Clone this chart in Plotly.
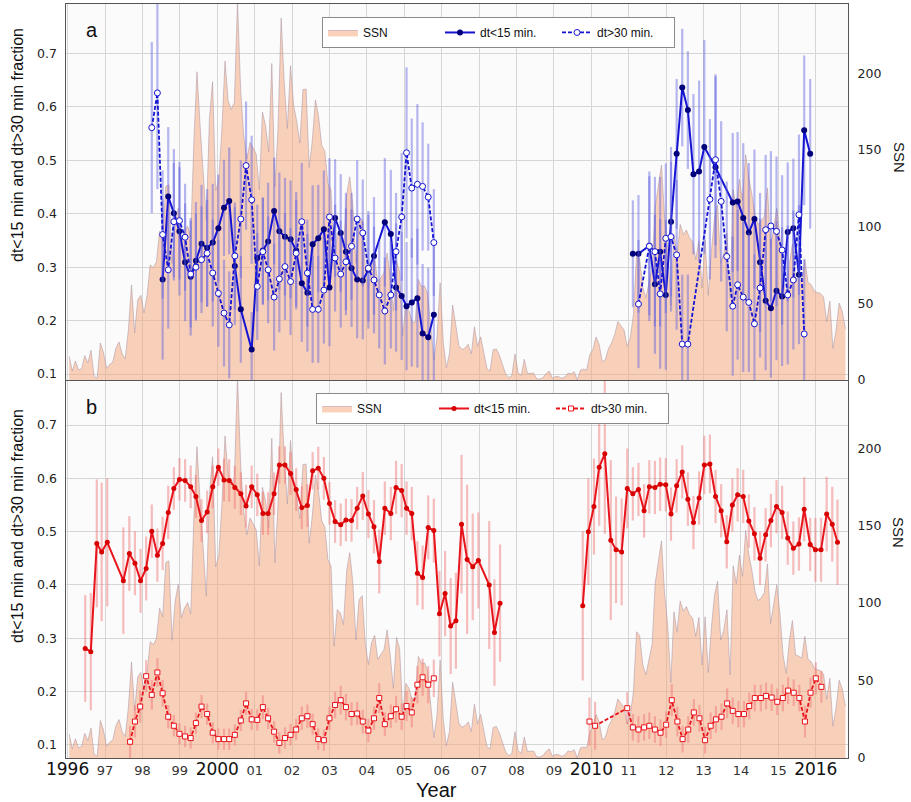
import plotly.graph_objects as go

# monthly sunspot number, Jan 1996 .. Oct 2016
ssn = [
    15.5, 5.9, 12.4, 6.5, 7.4, 15.9, 11.1, 19.4, 2.2, 1.2, 24.2, 18.0,            # 1996
    7.6, 10.2, 11.7, 20.8, 24.8, 17.0, 13.9, 32.7, 62.0, 30.6, 52.3, 55.2,        # 1997
    43.7, 55.2, 75.1, 73.2, 77.1, 96.9, 91.2, 126.3, 127.3, 76.0, 101.4, 112.2,   # 1998
    90.5, 96.8, 100.4, 93.0, 155.3, 201.0, 165.7, 136.8, 104.4, 170.4, 194.5, 123.5,
    130.6, 163.7, 208.0, 182.0, 176.3, 181.1, 246.6, 189.2, 159.1, 144.1, 154.9, 151.4,
    147.2, 124.1, 174.8, 165.9, 148.8, 206.4, 126.0, 163.9, 236.0, 193.3, 164.0, 205.0,
    179.1, 168.6, 154.5, 189.5, 189.7, 138.6, 156.4, 182.7, 172.1, 153.1, 149.2, 128.1,
    124.0, 72.1, 95.9, 93.6, 86.1, 120.7, 132.6, 113.4, 76.1, 102.3, 104.8, 73.3,
    60.3, 74.5, 79.2, 63.7, 67.2, 70.0, 82.8, 66.3, 44.9, 77.8, 70.5, 29.0,       # 2004
    48.2, 45.0, 37.7, 37.6, 65.6, 61.0, 61.4, 56.1, 34.0, 13.1, 27.7, 63.4,
    24.8, 7.9, 17.2, 48.9, 36.1, 22.5, 19.8, 20.9, 23.3, 17.0, 34.7, 22.0,
    28.2, 18.0, 7.6, 5.7, 19.7, 20.3, 16.3, 10.1, 4.0, 1.5, 2.9, 17.0,
    4.8, 3.0, 13.5, 4.2, 4.2, 4.5, 0.7, 0.7, 1.6, 4.2, 5.9, 1.2,                  # 2008
    2.3, 2.2, 1.1, 1.9, 4.5, 4.0, 5.4, 0.0, 6.5, 7.1, 6.5, 16.4,
    19.8, 28.1, 23.3, 11.9, 13.3, 20.4, 24.3, 29.6, 38.1, 35.5, 32.6, 21.9,
    27.6, 42.6, 81.5, 78.9, 60.3, 53.7, 63.7, 73.4, 113.1, 127.6, 140.2, 105.9,
    85.7, 48.7, 94.4, 81.1, 101.4, 94.8, 97.8, 92.6, 90.3, 78.4, 90.8, 60.0,      # 2012
    91.2, 55.2, 84.0, 105.0, 114.1, 76.1, 82.7, 95.7, 53.7, 124.1, 112.5, 130.9,
    117.3, 147.0, 131.8, 121.1, 107.5, 101.5, 103.5, 106.7, 125.3, 86.7, 100.2, 112.0,
    93.0, 66.7, 54.5, 75.3, 88.8, 66.5, 65.8, 64.4, 78.6, 63.6, 62.2, 58.0,
    57.0, 56.4, 54.1, 37.9, 51.5, 20.5, 32.4, 50.2, 44.6, 33.4,                   # 2016
]
ssn_t = [1996 + (i + 0.5) / 12 for i in range(len(ssn))]

# ---- panel a : dt<15 (fast) and dt>30 (slow) fractions
a_fast_t1 = [1998.54, 1998.69, 1998.84, 1998.99, 1999.14, 1999.29, 1999.43, 1999.58, 1999.73, 1999.88,
             2000.03, 2000.18, 2000.32, 2000.47, 2000.63, 2000.92,
             2001.07, 2001.22, 2001.36, 2001.52, 2001.66, 2001.81, 2001.96,
             2002.11, 2002.26, 2002.41, 2002.55, 2002.70, 2002.85,
             2003.00, 2003.15, 2003.30, 2003.44, 2003.59, 2003.74, 2003.89,
             2004.04, 2004.19, 2004.48, 2004.64, 2004.78, 2004.93,
             2005.06, 2005.20, 2005.35, 2005.49, 2005.64, 2005.79]
a_fast_v1 = [0.277, 0.432, 0.401, 0.367, 0.309, 0.282, 0.312, 0.344, 0.336, 0.346,
             0.373, 0.411, 0.424, 0.302, 0.221, 0.146,
             0.317, 0.331, 0.348, 0.405, 0.367, 0.357, 0.352,
             0.331, 0.270, 0.252, 0.343, 0.354, 0.371,
             0.262, 0.392, 0.364, 0.329, 0.298, 0.277, 0.275,
             0.295, 0.321, 0.384, 0.362, 0.262, 0.246,
             0.227, 0.234, 0.242, 0.176, 0.169, 0.211]
a_fast_e1 = [0.15, 0.13, 0.12, 0.12, 0.11, 0.11, 0.11, 0.11, 0.11, 0.11,
             0.10, 0.09, 0.10, 0.11, 0.10, 0.07,
             0.10, 0.10, 0.11, 0.10, 0.11, 0.11, 0.11,
             0.11, 0.11, 0.11, 0.11, 0.10, 0.11,
             0.11, 0.11, 0.11, 0.11, 0.11, 0.11, 0.11,
             0.11, 0.11, 0.12, 0.12, 0.12, 0.12,
             0.12, 0.12, 0.13, 0.13, 0.13, 0.13]
a_fast_t2 = [2011.11, 2011.26, 2011.55, 2011.70, 2011.84, 2011.99, 2012.13, 2012.28, 2012.43, 2012.58,
             2012.73, 2012.88, 2013.02, 2013.32, 2013.78, 2013.91, 2014.06, 2014.21, 2014.36, 2014.51,
             2014.66, 2014.80, 2014.95, 2015.10, 2015.25, 2015.40, 2015.55, 2015.69, 2015.85]
a_fast_v2 = [0.325, 0.325, 0.340, 0.268, 0.329, 0.248, 0.385, 0.512, 0.636, 0.594,
             0.474, 0.479, 0.525, 0.487, 0.421, 0.423, 0.392, 0.365, 0.390, 0.309,
             0.237, 0.223, 0.256, 0.245, 0.366, 0.373, 0.286, 0.556, 0.512]
a_fast_e2 = [0.10, 0.11, 0.13, 0.13, 0.14, 0.14, 0.14, 0.14, 0.11, 0.11,
             0.15, 0.17, 0.20, 0.17, 0.13, 0.13, 0.14, 0.13, 0.13, 0.13,
             0.13, 0.13, 0.13, 0.13, 0.13, 0.13, 0.13, 0.14, 0.14]

a_slow_t1 = [1998.25, 1998.40, 1998.54, 1998.69, 1998.84, 1998.99, 1999.14, 1999.29, 1999.43, 1999.58,
             1999.73, 1999.88, 2000.03, 2000.18, 2000.32, 2000.47, 2000.63, 2000.77, 2000.92,
             2001.07, 2001.22, 2001.36, 2001.52, 2001.66, 2001.81, 2001.96,
             2002.11, 2002.26, 2002.41, 2002.55, 2002.70, 2002.85,
             2003.00, 2003.15, 2003.30, 2003.44, 2003.59, 2003.74, 2003.89,
             2004.04, 2004.19, 2004.33, 2004.48, 2004.64, 2004.78, 2004.93,
             2005.06, 2005.20, 2005.35, 2005.49, 2005.64, 2005.79]
a_slow_v1 = [0.561, 0.626, 0.361, 0.295, 0.385, 0.387, 0.356, 0.287, 0.300, 0.314,
             0.326, 0.289, 0.251, 0.214, 0.192, 0.321, 0.390, 0.490, 0.426,
             0.264, 0.329, 0.295, 0.244, 0.278, 0.301, 0.273,
             0.326, 0.385, 0.289, 0.221, 0.221, 0.257,
             0.394, 0.317, 0.287, 0.310, 0.339, 0.390, 0.364,
             0.298, 0.276, 0.248, 0.218, 0.248, 0.329, 0.394,
             0.514, 0.448, 0.455, 0.451, 0.431, 0.346]
a_slow_e1 = [0.16, 0.18, 0.12, 0.11, 0.11, 0.11, 0.10, 0.10, 0.10, 0.10,
             0.10, 0.10, 0.10, 0.10, 0.10, 0.10, 0.11, 0.12, 0.12,
             0.10, 0.10, 0.10, 0.10, 0.10, 0.10, 0.10,
             0.10, 0.11, 0.10, 0.10, 0.10, 0.10,
             0.11, 0.10, 0.10, 0.10, 0.10, 0.11, 0.10,
             0.10, 0.10, 0.10, 0.10, 0.10, 0.11, 0.12,
             0.16, 0.13, 0.15, 0.12, 0.10, 0.10]
a_slow_t2 = [2011.26, 2011.55, 2011.70, 2011.84, 2011.99, 2012.13, 2012.28, 2012.43, 2012.58,
             2013.17, 2013.32, 2013.47, 2013.62, 2013.78, 2013.91, 2014.06, 2014.21, 2014.36,
             2014.51, 2014.66, 2014.80, 2014.95, 2015.10, 2015.25, 2015.40, 2015.55, 2015.69]
a_slow_v2 = [0.231, 0.339, 0.329, 0.250, 0.354, 0.357, 0.323, 0.156, 0.156,
             0.427, 0.501, 0.423, 0.320, 0.227, 0.267, 0.244, 0.234, 0.194,
             0.261, 0.370, 0.377, 0.367, 0.332, 0.248, 0.276, 0.398, 0.175]
a_slow_e2 = [0.12, 0.14, 0.14, 0.14, 0.14, 0.14, 0.14, 0.13, 0.13,
             0.15, 0.16, 0.15, 0.14, 0.13, 0.14, 0.14, 0.13, 0.13,
             0.13, 0.14, 0.14, 0.14, 0.14, 0.13, 0.13, 0.15, 0.14]

# ---- panel b
b_fast_t1 = [1996.47, 1996.62, 1996.78, 1996.91, 1997.06, 1997.49, 1997.65, 1997.80, 1997.95, 1998.10,
             1998.25, 1998.40, 1998.54, 1998.69, 1998.84, 1998.99, 1999.14, 1999.29, 1999.43, 1999.58,
             1999.73, 1999.88, 2000.03, 2000.18, 2000.32, 2000.47, 2000.63, 2000.77, 2000.92,
             2001.07, 2001.22, 2001.36, 2001.52, 2001.66, 2001.81, 2001.96,
             2002.11, 2002.26, 2002.41, 2002.55, 2002.70, 2002.85,
             2003.00, 2003.15, 2003.30, 2003.44, 2003.59, 2003.74, 2003.89,
             2004.04, 2004.19, 2004.33, 2004.48, 2004.64, 2004.78, 2004.93,
             2005.06, 2005.20, 2005.35, 2005.49, 2005.64, 2005.79,
             2005.94, 2006.09, 2006.24, 2006.38, 2006.53, 2006.68, 2006.83, 2006.98,
             2007.27, 2007.41, 2007.56]
b_fast_v1 = [0.281, 0.275, 0.478, 0.462, 0.480, 0.408, 0.459, 0.441, 0.408, 0.431,
             0.501, 0.456, 0.478, 0.536, 0.581, 0.598, 0.596, 0.584, 0.566, 0.521,
             0.537, 0.584, 0.621, 0.597, 0.596, 0.583, 0.571, 0.548, 0.584,
             0.569, 0.534, 0.534, 0.571, 0.625, 0.625, 0.609,
             0.579, 0.545, 0.549, 0.614, 0.619, 0.600,
             0.553, 0.519, 0.513, 0.522, 0.521, 0.544, 0.567,
             0.533, 0.509, 0.444, 0.544, 0.534, 0.583, 0.577,
             0.544, 0.534, 0.422, 0.414, 0.508, 0.502,
             0.346, 0.384, 0.323, 0.333, 0.514, 0.448, 0.434, 0.446,
             0.400, 0.311, 0.366]
b_fast_e1 = [0.10, 0.11, 0.12, 0.13, 0.12, 0.10, 0.07, 0.06, 0.06, 0.06,
             0.05, 0.05, 0.05, 0.05, 0.04, 0.04, 0.04, 0.04, 0.04, 0.04,
             0.04, 0.04, 0.035, 0.04, 0.04, 0.04, 0.04, 0.04, 0.04,
             0.04, 0.04, 0.04, 0.04, 0.035, 0.035, 0.04,
             0.04, 0.04, 0.04, 0.035, 0.04, 0.04,
             0.04, 0.04, 0.04, 0.04, 0.04, 0.04, 0.045,
             0.045, 0.05, 0.06, 0.05, 0.05, 0.05, 0.05,
             0.05, 0.05, 0.06, 0.06, 0.06, 0.06,
             0.08, 0.08, 0.09, 0.09, 0.13, 0.14, 0.10, 0.09,
             0.12, 0.10, 0.11]
b_fast_t2 = [2009.77, 2009.92, 2010.07, 2010.21, 2010.36, 2010.52, 2010.66, 2010.81, 2010.96, 2011.11,
             2011.26, 2011.41, 2011.55, 2011.70, 2011.84, 2011.99, 2012.13, 2012.28, 2012.43, 2012.58,
             2012.73, 2012.88, 2013.02, 2013.17, 2013.32, 2013.47, 2013.62, 2013.77, 2013.91, 2014.06,
             2014.21, 2014.36, 2014.51, 2014.66, 2014.80, 2014.95, 2015.10, 2015.25, 2015.40, 2015.55,
             2015.69, 2015.85, 2015.99, 2016.14, 2016.29, 2016.44, 2016.58]
b_fast_v2 = [0.361, 0.500, 0.547, 0.621, 0.646, 0.484, 0.466, 0.462, 0.581, 0.571,
             0.579, 0.539, 0.584, 0.583, 0.589, 0.588, 0.533, 0.586, 0.612, 0.561,
             0.517, 0.563, 0.625, 0.627, 0.566, 0.539, 0.481, 0.550, 0.569, 0.566,
             0.520, 0.496, 0.450, 0.494, 0.521, 0.547, 0.536, 0.488, 0.469, 0.477,
             0.542, 0.476, 0.466, 0.466, 0.533, 0.514, 0.480]
b_fast_e2 = [0.14, 0.10, 0.09, 0.11, 0.15, 0.15, 0.10, 0.10, 0.075, 0.05,
             0.05, 0.05, 0.05, 0.05, 0.05, 0.05, 0.05, 0.05, 0.05, 0.05,
             0.05, 0.05, 0.055, 0.055, 0.05, 0.05, 0.05, 0.05, 0.05, 0.05,
             0.05, 0.05, 0.05, 0.05, 0.05, 0.05, 0.05, 0.05, 0.05, 0.05,
             0.06, 0.05, 0.06, 0.06, 0.07, 0.07, 0.08]

b_slow_t1 = [1997.67, 1997.80, 1997.94, 1998.10, 1998.25, 1998.40, 1998.54, 1998.69, 1998.84, 1998.99,
             1999.14, 1999.29, 1999.43, 1999.58, 1999.73, 1999.88, 2000.03, 2000.18, 2000.32, 2000.47,
             2000.63, 2000.77, 2000.92, 2001.07, 2001.22, 2001.36, 2001.52, 2001.66, 2001.81, 2001.96,
             2002.11, 2002.26, 2002.41, 2002.55, 2002.70, 2002.85,
             2003.00, 2003.15, 2003.30, 2003.44, 2003.59, 2003.74, 2003.89,
             2004.04, 2004.19, 2004.33, 2004.48, 2004.64, 2004.78, 2004.93,
             2005.06, 2005.20, 2005.35, 2005.49, 2005.64, 2005.79]
b_slow_v1 = [0.106, 0.144, 0.172, 0.229, 0.194, 0.236, 0.197, 0.153, 0.136, 0.121,
             0.116, 0.113, 0.141, 0.172, 0.158, 0.123, 0.111, 0.111, 0.111, 0.119,
             0.146, 0.178, 0.148, 0.147, 0.171, 0.150, 0.125, 0.104, 0.113, 0.119,
             0.129, 0.150, 0.154, 0.139, 0.111, 0.109,
             0.150, 0.175, 0.184, 0.171, 0.158, 0.159, 0.144,
             0.127, 0.150, 0.188, 0.139, 0.154, 0.167, 0.153,
             0.173, 0.161, 0.213, 0.227, 0.213, 0.225]
b_slow_e1 = [0.030, 0.030, 0.030, 0.030, 0.028, 0.027, 0.025, 0.022, 0.020, 0.020,
             0.020, 0.020, 0.020, 0.022, 0.020, 0.020, 0.020, 0.020, 0.020, 0.020,
             0.020, 0.022, 0.020, 0.020, 0.022, 0.020, 0.020, 0.020, 0.020, 0.020,
             0.020, 0.022, 0.022, 0.020, 0.020, 0.020,
             0.022, 0.025, 0.027, 0.025, 0.022, 0.022, 0.022,
             0.022, 0.022, 0.028, 0.022, 0.022, 0.025, 0.025,
             0.028, 0.028, 0.035, 0.035, 0.035, 0.035]
b_slow_t2 = [2009.95, 2010.10, 2010.96, 2011.11, 2011.26, 2011.41, 2011.55, 2011.70, 2011.85, 2012.00,
             2012.15, 2012.30, 2012.44, 2012.59, 2012.74, 2012.89, 2013.04, 2013.19, 2013.33, 2013.48,
             2013.63, 2013.78, 2013.93, 2014.08, 2014.22, 2014.37, 2014.53, 2014.67, 2014.82, 2014.97,
             2015.12, 2015.26, 2015.41, 2015.56, 2015.71, 2015.86, 2016.00, 2016.15]
b_slow_v2 = [0.144, 0.136, 0.169, 0.133, 0.129, 0.133, 0.136, 0.129, 0.123, 0.138,
             0.184, 0.144, 0.111, 0.129, 0.161, 0.150, 0.109, 0.136, 0.148, 0.153,
             0.178, 0.164, 0.158, 0.158, 0.173, 0.188, 0.188, 0.192, 0.189, 0.181,
             0.188, 0.202, 0.198, 0.188, 0.144, 0.198, 0.225, 0.209]
b_slow_e2 = [0.045, 0.045, 0.030, 0.025, 0.025, 0.025, 0.025, 0.025, 0.025, 0.025,
             0.030, 0.028, 0.025, 0.025, 0.025, 0.025, 0.025, 0.025, 0.025, 0.025,
             0.028, 0.025, 0.025, 0.025, 0.025, 0.025, 0.025, 0.025, 0.025, 0.025,
             0.025, 0.025, 0.025, 0.025, 0.030, 0.028, 0.030, 0.030]

years = list(range(1996, 2017))
year_labels = ['1996', '97', '98', '99', '2000', '01', '02', '03', '04', '05', '06', '07', '08', '09',
               '2010', '11', '12', '13', '14', '15', '2016']


def join(a, b):
    return a + [None] + b


for arr in [(a_fast_t1, a_fast_v1, a_fast_e1), (a_fast_t2, a_fast_v2, a_fast_e2),
            (a_slow_t1, a_slow_v1, a_slow_e1), (a_slow_t2, a_slow_v2, a_slow_e2),
            (b_fast_t1, b_fast_v1, b_fast_e1), (b_fast_t2, b_fast_v2, b_fast_e2),
            (b_slow_t1, b_slow_v1, b_slow_e1), (b_slow_t2, b_slow_v2, b_slow_e2)]:
    assert len(arr[0]) == len(arr[1]) == len(arr[2]), [len(a) for a in arr]

SSN_FILL = 'rgba(245,165,122,0.5)'
SSN_LINE = 'rgba(175,150,165,0.7)'
BLUE = '#1414d2'
RED = '#e8141c'
FONT = 'Liberation Sans, Arial, sans-serif'
NARROW = 'Liberation Sans Narrow, Liberation Sans, Arial, sans-serif'
TICKFONT = 'DejaVu Sans, Verdana, sans-serif'

fig = go.Figure()


def add_panel(xa, ya_ssn, ya_frac, legend, color, mcolor, ecolor, slow_symbol, msize,
              fast, slow):
    fig.add_trace(go.Scatter(
        x=ssn_t, y=ssn, mode='lines', fill='tozeroy', fillcolor=SSN_FILL,
        line=dict(color=SSN_LINE, width=0.8), name='SSN',
        xaxis=xa, yaxis=ya_ssn, legend=legend))
    ft, fv, fe = fast
    fig.add_trace(go.Scatter(
        x=ft, y=fv, mode='lines+markers', name='dt<15 min.',
        line=dict(color=color, width=2),
        marker=dict(size=msize, color=mcolor),
        error_y=dict(type='data', array=fe, color=ecolor, thickness=2.2, width=0),
        xaxis=xa, yaxis=ya_frac, legend=legend))
    st, sv, se = slow
    fig.add_trace(go.Scatter(
        x=st, y=sv, mode='lines+markers', name='dt>30 min.',
        line=dict(color=color, width=1.8, dash='4px,2px'),
        marker=dict(size=msize, color='white', symbol=slow_symbol,
                    line=dict(color=color, width=1)),
        error_y=dict(type='data', array=se, color=ecolor, thickness=2.2, width=0),
        xaxis=xa, yaxis=ya_frac, legend=legend))


add_panel('x', 'y', 'y2', 'legend', BLUE, '#00007a', 'rgba(95,95,225,0.45)', 'circle', 6,
          (join(a_fast_t1, a_fast_t2), join(a_fast_v1, a_fast_v2), join(a_fast_e1, a_fast_e2)),
          (join(a_slow_t1, a_slow_t2), join(a_slow_v1, a_slow_v2), join(a_slow_e1, a_slow_e2)))
add_panel('x2', 'y3', 'y4', 'legend2', RED, '#d80000', 'rgba(240,110,110,0.45)', 'square', 5,
          (join(b_fast_t1, b_fast_t2), join(b_fast_v1, b_fast_v2), join(b_fast_e1, b_fast_e2)),
          (join(b_slow_t1, b_slow_t2), join(b_slow_v1, b_slow_v2), join(b_slow_e1, b_slow_e2)))

xcommon = dict(range=[1995.957, 2016.861], tickvals=years, showgrid=True, gridcolor='#d6d6d6',
               gridwidth=1, showline=True, mirror=True, linecolor='#555', linewidth=1.2,
               zeroline=False, ticks='')
big = "<span style='font-size:17px;color:#111'>%s</span>"
xlabels = [big % t if len(t) == 4 else t for t in year_labels]

ssn_axis = dict(side='right', tickvals=[0, 50, 100, 150, 200], showgrid=False, zeroline=False,
                showline=True, mirror=True, linecolor='#555', linewidth=1.2, ticks='',
                ticklabelstandoff=6, tickfont=dict(family=TICKFONT, size=12.5, color='#222'))
frac_axis = dict(side='left', tickvals=[0.1, 0.2, 0.3, 0.4, 0.5, 0.6, 0.7], tickformat='.1f',
                 showgrid=True, gridcolor='#d6d6d6', zeroline=False, showline=False, ticks='',
                 ticklabelstandoff=8, tickfont=dict(family=TICKFONT, size=12.5, color='#222'))

legend_common = dict(orientation='h', xanchor='left', yanchor='top', bgcolor='white',
                     bordercolor='#8a8a8a', borderwidth=1, entrywidth=72,
                     font=dict(family=FONT, size=12, color='#111'), traceorder='normal')

fig.update_layout(
    width=911, height=802,
    margin=dict(l=66, r=63, t=4, b=44),
    paper_bgcolor='white', plot_bgcolor='#fbfbfb',
    showlegend=True,
    xaxis=dict(xcommon, anchor='y', showticklabels=False),
    xaxis2=dict(xcommon, anchor='y3', matches='x', ticktext=xlabels,
                tickfont=dict(family=TICKFONT, size=13, color='#333')),
    yaxis=dict(ssn_axis, domain=[0.5013, 1], range=[0, 245.2], anchor='x'),
    yaxis2=dict(frac_axis, overlaying='y', range=[0.0888, 0.7924], anchor='x'),
    yaxis3=dict(ssn_axis, domain=[0, 0.5], range=[0, 243.4], anchor='x2'),
    yaxis4=dict(frac_axis, overlaying='y3', range=[0.0756, 0.7825], anchor='x2'),
    legend=dict(legend_common, x=0.3274, y=0.9828),
    legend2=dict(legend_common, x=0.3197, y=0.4841),
)

ann = dict(xref='paper', yref='paper', showarrow=False, xanchor='center', yanchor='middle')
title_txt = 'dt<15 min and dt>30 min fraction'
for ty in (0.813, 0.3077):
    fig.add_annotation(ann, x=-0.0614, y=ty, text=title_txt, textangle=-90,
                       font=dict(family=NARROW, size=16, color='#111'))
for ty in (0.7958, 0.2984):
    fig.add_annotation(ann, x=1.0652, y=ty, text='SSN', textangle=90,
                       font=dict(family=NARROW, size=15, color='#111'))
fig.add_annotation(ann, x=0.4744, y=-0.0424, text='Year',
                   font=dict(family=FONT, size=20, color='#111'))
fig.add_annotation(ann, x=0.0332, y=0.9655, text='a', font=dict(family=FONT, size=20, color='#111'))
fig.add_annotation(ann, x=0.0332, y=0.4655, text='b', font=dict(family=FONT, size=20, color='#111'))

fig.write_html("out.html", config={'displayModeBar': False},
               post_script="document.body.style.margin='0px';")
